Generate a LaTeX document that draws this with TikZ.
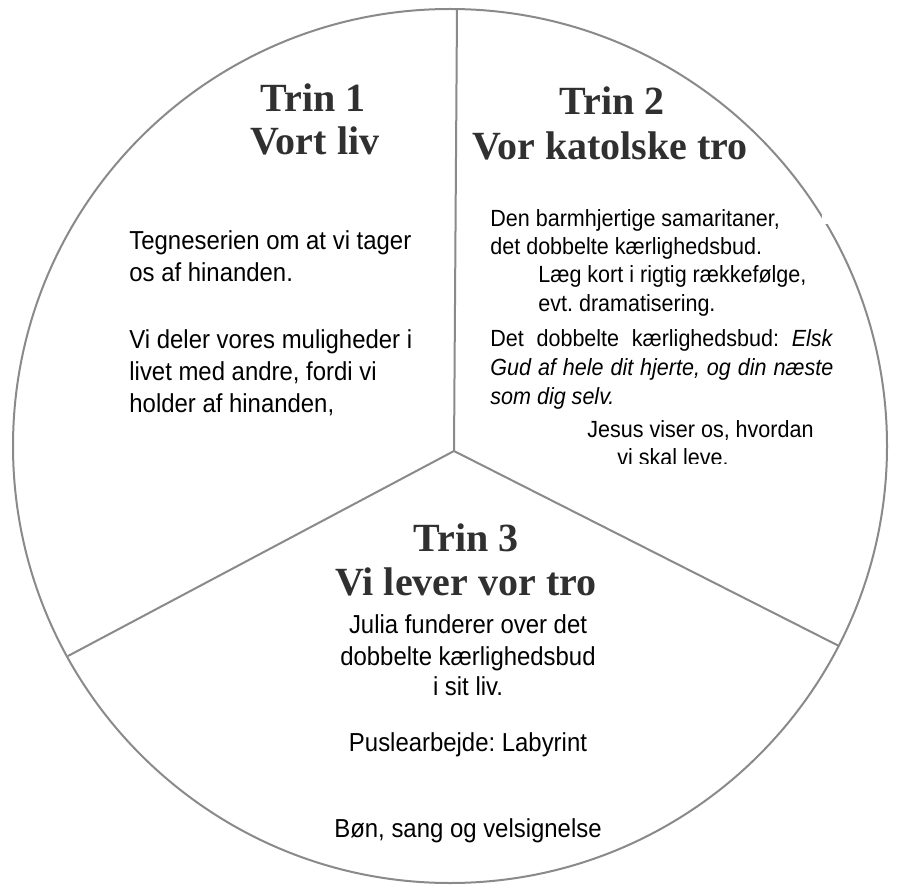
\documentclass[tikz,border=0pt]{standalone}
\usepackage{fontspec}
\setmainfont{Liberation Sans}[FakeStretch=0.92]
\newfontfamily\headfont{Liberation Serif}
\definecolor{rimgray}{HTML}{8A8A8A}
\definecolor{headgray}{HTML}{303030}
\frenchspacing
\begin{document}
\begin{tikzpicture}[x=0.5pt,y=-0.5pt,
  body/.style={inner sep=0pt, font=\fontsize{13}{15}\selectfont, text=black},
  small/.style={inner sep=0pt, font=\fontsize{11.7}{14}\selectfont, text=black},
  head/.style={inner sep=0pt, font=\headfont\bfseries\fontsize{20}{22}\selectfont, text=headgray},
  rim/.style={draw=rimgray, line width=1pt}]
\useasboundingbox (0,0) rectangle (898,887);
\fill[white] (0,0) rectangle (898,887);
% circle and dividers
\coordinate (c) at (450,446);
\draw[rim] (c) circle[radius=218.5pt];
\coordinate (j) at (454,451);
\coordinate (top) at (457,9);
\coordinate (lft) at (68,656);
\coordinate (rgt) at (839,646);
\draw[rim] (j) -- (top);
\draw[rim] (j) -- (lft);
\draw[rim] (j) -- (rgt);
\fill[white] (822,205) rectangle (838,224);
% headings
\node[head, anchor=base] (h1a) at (313,112) {Trin 1};
\node[head, anchor=base] (h1b) at (315,155) {Vort liv};
\node[head, anchor=base] (h2a) at (612,115) {Trin 2};
\node[head, anchor=base] (h2b) at (610,160) {Vor katolske tro};
\node[head, anchor=base] (h3a) at (466,551) {Trin 3};
\node[head, anchor=base] (h3b) at (466,595) {Vi lever vor tro};
% Trin 1 body
\node[body, anchor=base west] (t1a) at (129,250) {Tegneserien om at vi tager};
\node[body, anchor=base west] (t1b) at (129,282) {os af hinanden.};
\node[body, anchor=base west] (t1c) at (129,348) {Vi deler vores muligheder i};
\node[body, anchor=base west] (t1d) at (129,380) {livet med andre, fordi vi};
\node[body, anchor=base west] (t1e) at (129,412) {holder af hinanden,};
% Trin 2 body
\node[small, anchor=base west] (t2a) at (490,227) {Den barmhjertige samaritaner,};
\node[small, anchor=base west] (t2b) at (490,255) {det dobbelte kærlighedsbud.};
\node[small, anchor=base west] (t2c) at (538,283) {Læg kort i rigtig rækkefølge,};
\node[small, anchor=base west] (t2d) at (538,312) {evt. dramatisering.};
\node[small, anchor=base west] (t2e) at (490,346) {\makebox[171.5pt][s]{Det dobbelte kærlighedsbud: \textit{Elsk}}};
\node[small, anchor=base west] (t2f) at (490,375) {\makebox[171.5pt][s]{\itshape Gud af hele dit hjerte, og din næste}};
\node[small, anchor=base west] (t2g) at (490,404) {\itshape som dig selv.};
\node[small, anchor=base west] (t2h) at (587,437) {Jesus viser os, hvordan};
\begin{scope}
  \clip (600,430) rectangle (760,463);
  \node[small, anchor=base west] (t2i) at (617,465) {vi skal leve.};
\end{scope}
% Trin 3 body
\node[body, anchor=base] (t3a) at (468,633) {Julia funderer over det};
\node[body, anchor=base] (t3b) at (468,665) {dobbelte kærlighedsbud};
\node[body, anchor=base] (t3c) at (468,695) {i sit liv.};
\node[body, anchor=base] (t3d) at (468,751) {Puslearbejde: Labyrint};
\node[body, anchor=base] (t3e) at (468,837) {Bøn, sang og velsignelse};
\end{tikzpicture}
\end{document}
